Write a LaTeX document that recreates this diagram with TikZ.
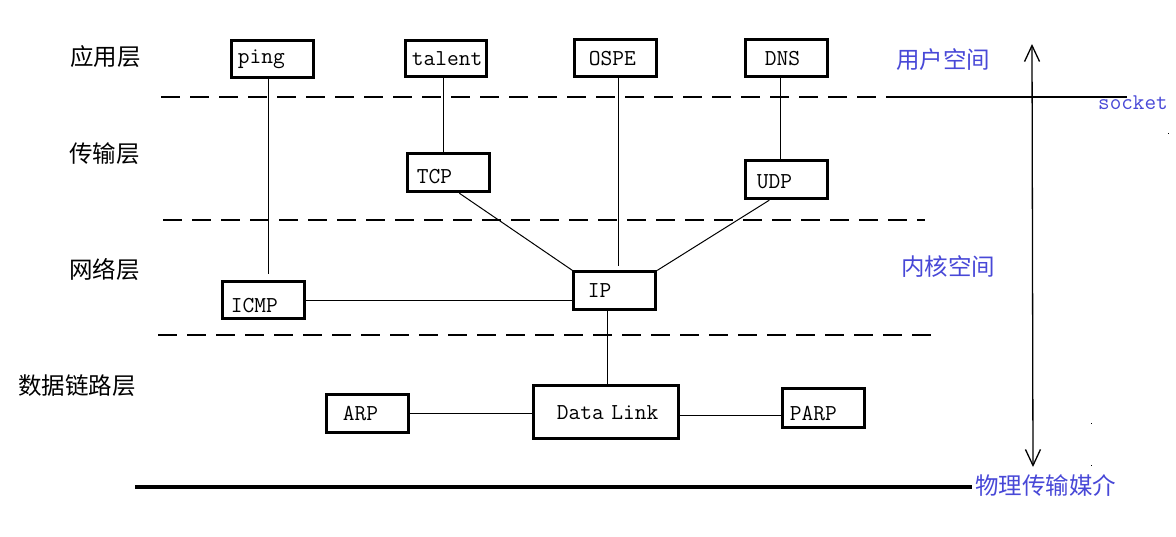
\documentclass[tikz,border=0pt]{standalone}
\usepackage{fontspec}
\setmainfont{Liberation Serif}
\newfontfamily\cjk{Noto Sans CJK SC}
\usetikzlibrary{arrows.meta}
\definecolor{lblblue}{RGB}{72,72,215}
\newcommand\lowr[2]{\raisebox{-#1}[\height][\depth]{#2}}
\begin{document}
\begin{tikzpicture}[x=1pt,y=-1pt,
  bx/.style n args={3}{draw, line width=2.8pt, anchor=north west, inner xsep=0pt, inner ysep=0pt,
    xshift=1.4pt, yshift=-1.4pt,
    text width=#1, minimum height=#2, align=left, font=\ttfamily\fontsize{22.8}{24}\selectfont,
    execute at begin node={\hspace*{#3}}},
  conn/.style={line width=1pt},
  layer/.style={anchor=west, inner sep=0pt, font=\cjk\fontsize{23.5}{25}\selectfont},
  space/.style={anchor=west, inner sep=0pt, text=lblblue, font=\cjk\fontsize{23.5}{25}\selectfont},
  sep/.style={line width=1.3pt, dash pattern=on 19pt off 10pt},
  barb/.tip={Straight Barb[length=16pt,width=15pt]}]
\useasboundingbox (0,0) rectangle (1176,536);

% layer labels
\node[layer] (app) at (70,57) {应用层};
\node[layer] (trans) at (69,154) {传输层};
\node[layer] (net) at (69,270) {网络层};
\node[layer] (link) at (18,386) {数据链路层};

% space labels
\node[space] (user) at (896,60) {用户空间};
\node[space] (kern) at (901,267) {内核空间};
\node[space] (phys) at (975,486) {物理传输媒介};
\node[anchor=west, inner sep=0pt, text=lblblue, font=\ttfamily\fontsize{22.5}{24}\selectfont] (sock) at (1098,103) {socket};

% boxes
\node[bx={82pt}{37pt}{6pt}] (ping) at (229,38) {\lowr{0pt}{ping}};
\node[bx={81pt}{36pt}{6pt}] (talent) at (403,38) {\lowr{0pt}{talent}};
\node[bx={82pt}{37pt}{14pt}] (ospe) at (572,37) {\lowr{0pt}{OSPE}};
\node[bx={82pt}{37pt}{19pt}] (dns) at (743,37) {\lowr{0pt}{DNS}};
\node[bx={82pt}{38pt}{9pt}] (tcp) at (405,151) {\lowr{4pt}{TCP}};
\node[bx={82pt}{38pt}{11pt}] (udp) at (743,158) {\lowr{2pt}{UDP}};
\node[bx={82pt}{38pt}{14pt}] (ip) at (571,269) {\lowr{0pt}{IP}};
\node[bx={82pt}{37pt}{8pt}] (icmp) at (220,279) {\lowr{5pt}{ICMP}};
\node[bx={145pt}{53pt}{23pt}] (dl) at (531,383) {\lowr{0pt}{Data Link}};
\node[bx={82pt}{38pt}{16pt}] (arp) at (324,392) {\lowr{0pt}{ARP}};
\node[bx={82pt}{39pt}{7pt}] (parp) at (780,386) {\lowr{5pt}{PARP}};

% separators
\coordinate (s1a) at (161,97);
\coordinate (s1b) at (905,97);
\coordinate (s1c) at (1127,97);
\draw[sep] (s1a) -- (s1b);
\draw[line width=1.3pt] (s1b) -- (s1c);
\coordinate (s2a) at (163,220);
\coordinate (s2b) at (925,220);
\draw[sep] (s2a) -- (s2b);
\coordinate (s3a) at (158,335);
\coordinate (s3b) at (935,335);
\draw[sep] (s3a) -- (s3b);
\coordinate (ga) at (135,487);
\coordinate (gb) at (972,487);
\draw[line width=3.5pt] (ga) -- (gb);

% vertical double arrow
\coordinate (atop) at (1032,44);
\coordinate (abot) at (1033,467);
\draw[line width=1.3pt, barb-barb] (atop) -- (abot);

% stray dots
\fill (1167.5,132.5) rectangle (1169,134);
\fill (1090.5,422.5) rectangle (1092,424);
\fill (1090.5,464.5) rectangle (1092,466);

% connectors
\draw[conn] ([xshift=-4.5pt]ping.south) -- ([xshift=4.5pt,yshift=6pt]icmp.north);
\draw[conn] ([xshift=-3pt]talent.south) -- ([xshift=-5.5pt]tcp.north);
\draw[conn] ([xshift=2.5pt]ospe.south) -- ([xshift=3.5pt,yshift=4pt]ip.north);
\draw[conn] ([xshift=-6.5pt]dns.south) -- ([xshift=-6.5pt]udp.north);
\draw[conn] ([xshift=10.5pt]tcp.south) -- (ip.north west);
\draw[conn] ([xshift=-17.5pt]udp.south) -- (ip.north east);
\draw[conn] (icmp.east) -- (icmp.east -| ip.west);
\coordinate (ipb) at ([xshift=-7.5pt]ip.south);
\draw[conn] (ipb) -- (ipb |- dl.north);
\draw[conn] (arp.east) -- (arp.east -| dl.west);
\coordinate (dle) at ([yshift=-3pt]dl.east);
\draw[conn] (dle) -- (dle -| parp.west);
\end{tikzpicture}
\end{document}
